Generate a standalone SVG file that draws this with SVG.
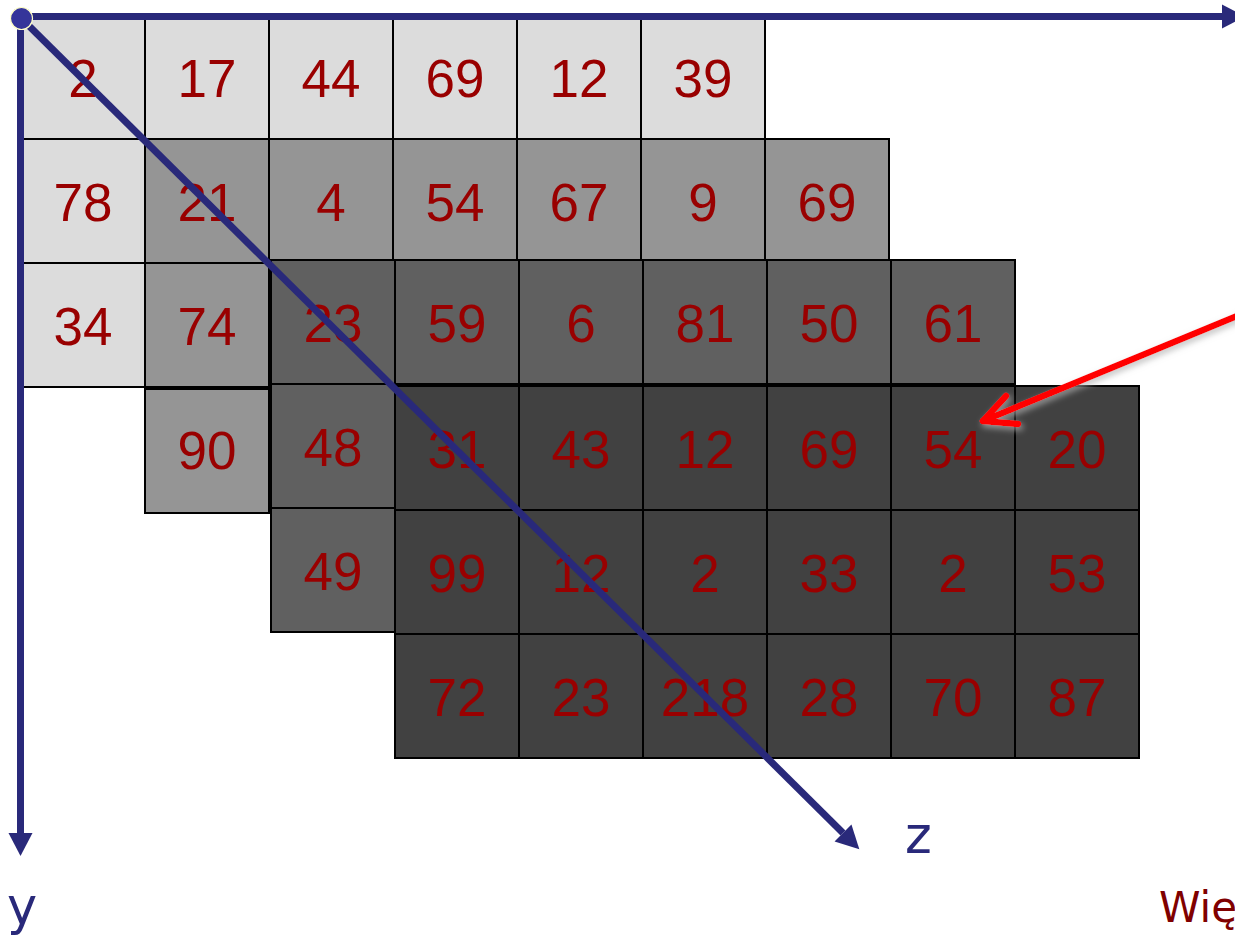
<svg xmlns="http://www.w3.org/2000/svg" width="1235" height="936" viewBox="0 0 1235 936">
<style>
rect{stroke:#000;stroke-width:2}
.c1{fill:#dcdcdc}.c2{fill:#959595}.c3{fill:#606060}.c4{fill:#414141}
.t{font-family:"Liberation Sans",Arial,sans-serif;font-size:53px;fill:#990000;text-anchor:middle}
.ax{stroke:#29297a;stroke-width:7;fill:none}
.lbl{font-family:"DejaVu Sans",Verdana,sans-serif;font-size:51px;fill:#29297a}
</style>
<defs>
<marker id="nav" markerUnits="userSpaceOnUse" markerWidth="26" markerHeight="26" refX="0" refY="12" orient="auto" overflow="visible">
<path d="M0,0 L23,12 L0,24 Z" fill="#29297a"/>
</marker>
<filter id="glow" x="-10%" y="-30%" width="120%" height="160%">
<feDropShadow dx="2" dy="3" stdDeviation="3" flood-color="#b0b0b0" flood-opacity="0.8"/>
</filter>
</defs>
<g id="layer1">
<g id="l1-r0c0"><rect class="c1" x="21" y="15" width="124" height="124"/><text class="t" x="83" y="96.5">2</text></g>
<g id="l1-r0c1"><rect class="c1" x="145" y="15" width="124" height="124"/><text class="t" x="207" y="96.5">17</text></g>
<g id="l1-r0c2"><rect class="c1" x="269" y="15" width="124" height="124"/><text class="t" x="331" y="96.5">44</text></g>
<g id="l1-r0c3"><rect class="c1" x="393" y="15" width="124" height="124"/><text class="t" x="455" y="96.5">69</text></g>
<g id="l1-r0c4"><rect class="c1" x="517" y="15" width="124" height="124"/><text class="t" x="579" y="96.5">12</text></g>
<g id="l1-r0c5"><rect class="c1" x="641" y="15" width="124" height="124"/><text class="t" x="703" y="96.5">39</text></g>
<g id="l1-r1c0"><rect class="c1" x="21" y="139" width="124" height="124"/><text class="t" x="83" y="220.5">78</text></g>
<g id="l1-r2c0"><rect class="c1" x="21" y="263" width="124" height="124"/><text class="t" x="83" y="344.5">34</text></g>
</g>
<g id="layer2">
<g id="l2-r0c0"><rect class="c2" x="145" y="139" width="124" height="124"/><text class="t" x="207" y="220.5">21</text></g>
<g id="l2-r0c1"><rect class="c2" x="269" y="139" width="124" height="124"/><text class="t" x="331" y="220.5">4</text></g>
<g id="l2-r0c2"><rect class="c2" x="393" y="139" width="124" height="124"/><text class="t" x="455" y="220.5">54</text></g>
<g id="l2-r0c3"><rect class="c2" x="517" y="139" width="124" height="124"/><text class="t" x="579" y="220.5">67</text></g>
<g id="l2-r0c4"><rect class="c2" x="641" y="139" width="124" height="124"/><text class="t" x="703" y="220.5">9</text></g>
<g id="l2-r0c5"><rect class="c2" x="765" y="139" width="124" height="124"/><text class="t" x="827" y="220.5">69</text></g>
<g id="l2-r1c0"><rect class="c2" x="145" y="263" width="124" height="124"/><text class="t" x="207" y="344.5">74</text></g>
<g id="l2-r2c0"><rect class="c2" x="145" y="389" width="124" height="124"/><text class="t" x="207" y="469">90</text></g>
</g>
<g id="layer3">
<g id="l3-r0c0"><rect class="c3" x="271" y="260" width="124" height="124"/><text class="t" x="333" y="341.5">23</text></g>
<g id="l3-r0c1"><rect class="c3" x="395" y="260" width="124" height="124"/><text class="t" x="457" y="341.5">59</text></g>
<g id="l3-r0c2"><rect class="c3" x="519" y="260" width="124" height="124"/><text class="t" x="581" y="341.5">6</text></g>
<g id="l3-r0c3"><rect class="c3" x="643" y="260" width="124" height="124"/><text class="t" x="705" y="341.5">81</text></g>
<g id="l3-r0c4"><rect class="c3" x="767" y="260" width="124" height="124"/><text class="t" x="829" y="341.5">50</text></g>
<g id="l3-r0c5"><rect class="c3" x="891" y="260" width="124" height="124"/><text class="t" x="953" y="341.5">61</text></g>
<g id="l3-r1c0"><rect class="c3" x="271" y="384" width="124" height="124"/><text class="t" x="333" y="465.5">48</text></g>
<g id="l3-r2c0"><rect class="c3" x="271" y="508" width="124" height="124"/><text class="t" x="333" y="589.5">49</text></g>
</g>
<g id="layer4">
<g id="l4-r0c0"><rect class="c4" x="395" y="386" width="124" height="124"/><text class="t" x="457" y="467.5">31</text></g>
<g id="l4-r0c1"><rect class="c4" x="519" y="386" width="124" height="124"/><text class="t" x="581" y="467.5">43</text></g>
<g id="l4-r0c2"><rect class="c4" x="643" y="386" width="124" height="124"/><text class="t" x="705" y="467.5">12</text></g>
<g id="l4-r0c3"><rect class="c4" x="767" y="386" width="124" height="124"/><text class="t" x="829" y="467.5">69</text></g>
<g id="l4-r0c4"><rect class="c4" x="891" y="386" width="124" height="124"/><text class="t" x="953" y="467.5">54</text></g>
<g id="l4-r0c5"><rect class="c4" x="1015" y="386" width="124" height="124"/><text class="t" x="1077" y="467.5">20</text></g>
<g id="l4-r1c0"><rect class="c4" x="395" y="510" width="124" height="124"/><text class="t" x="457" y="591.5">99</text></g>
<g id="l4-r1c1"><rect class="c4" x="519" y="510" width="124" height="124"/><text class="t" x="581" y="591.5">12</text></g>
<g id="l4-r1c2"><rect class="c4" x="643" y="510" width="124" height="124"/><text class="t" x="705" y="591.5">2</text></g>
<g id="l4-r1c3"><rect class="c4" x="767" y="510" width="124" height="124"/><text class="t" x="829" y="591.5">33</text></g>
<g id="l4-r1c4"><rect class="c4" x="891" y="510" width="124" height="124"/><text class="t" x="953" y="591.5">2</text></g>
<g id="l4-r1c5"><rect class="c4" x="1015" y="510" width="124" height="124"/><text class="t" x="1077" y="591.5">53</text></g>
<g id="l4-r2c0"><rect class="c4" x="395" y="634" width="124" height="124"/><text class="t" x="457" y="715.5">72</text></g>
<g id="l4-r2c1"><rect class="c4" x="519" y="634" width="124" height="124"/><text class="t" x="581" y="715.5">23</text></g>
<g id="l4-r2c2"><rect class="c4" x="643" y="634" width="124" height="124"/><text class="t" x="705" y="715.5">218</text></g>
<g id="l4-r2c3"><rect class="c4" x="767" y="634" width="124" height="124"/><text class="t" x="829" y="715.5">28</text></g>
<g id="l4-r2c4"><rect class="c4" x="891" y="634" width="124" height="124"/><text class="t" x="953" y="715.5">70</text></g>
<g id="l4-r2c5"><rect class="c4" x="1015" y="634" width="124" height="124"/><text class="t" x="1077" y="715.5">87</text></g>
</g>
<g id="connectors">
<path class="ax" d="M21,16.5 L1222,16.5" marker-end="url(#nav)"/>
<path class="ax" d="M20.5,16 L20.5,833" marker-end="url(#nav)"/>
<path class="ax" d="M22,19 L843,833" marker-end="url(#nav)"/>
<circle cx="21.5" cy="18.5" r="11" fill="#35359a" stroke="#ffffc8" stroke-width="1.2"/>
<g filter="url(#glow)" stroke="#ff0000" stroke-width="6.5" stroke-linecap="round" stroke-linejoin="round" fill="none">
<path d="M1242,314 L983,421"/>
<path d="M1006,396 L983,421 L1018,424"/>
</g>
</g>
<g id="labels">
<text class="lbl" x="7" y="924">y</text>
<text class="lbl" x="905" y="853">z</text>
<text x="1159" y="922" font-family="DejaVu Sans, Verdana, sans-serif" font-size="42" fill="#800000">Wię</text>
</g>
</svg>
